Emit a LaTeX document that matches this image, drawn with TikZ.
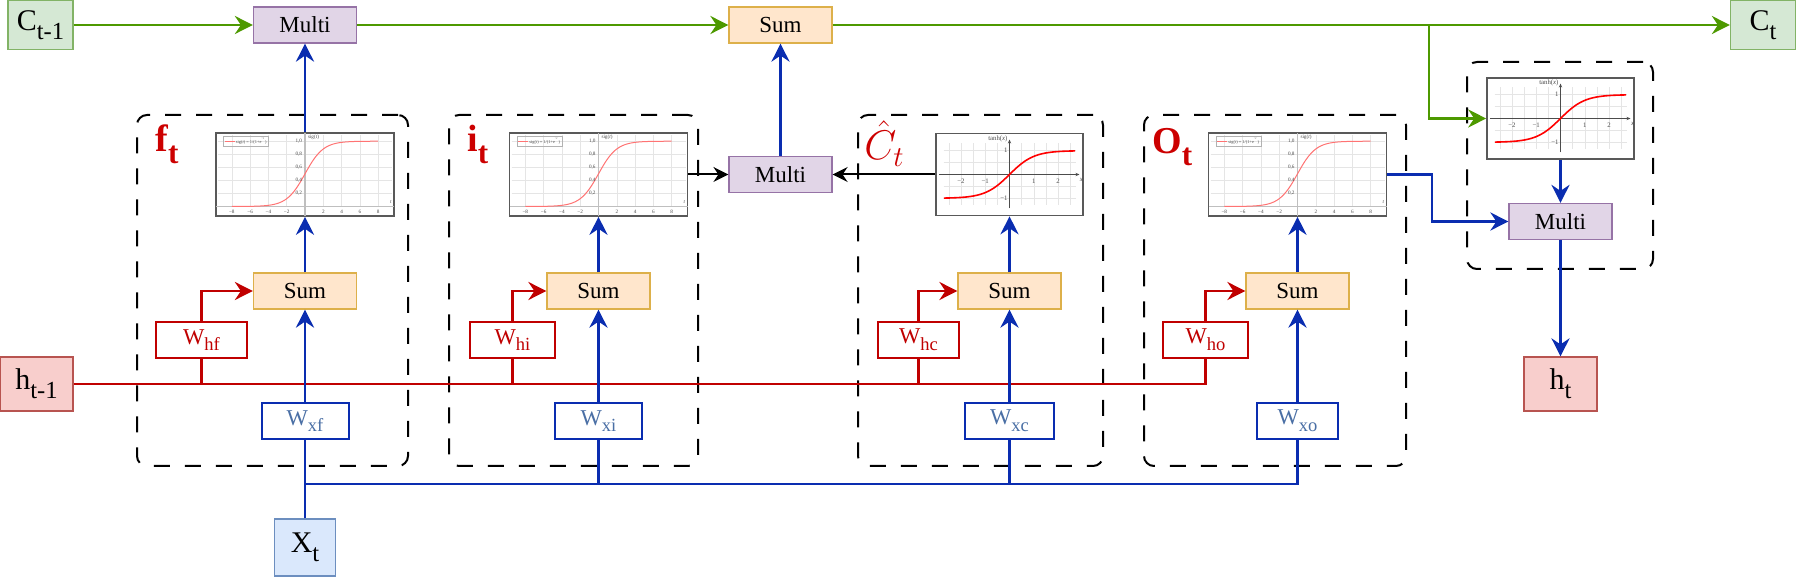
\documentclass[tikz,border=0pt]{standalone}
\usepackage{fontspec}
\setmainfont{Liberation Serif}
\usetikzlibrary{arrows.meta}

\definecolor{greenfill}{HTML}{D5E8D4}
\definecolor{greenedge}{HTML}{82B366}
\definecolor{cgreen}{HTML}{4D9900}
\definecolor{purplefill}{HTML}{E1D5E7}
\definecolor{purpleedge}{HTML}{9673A6}
\definecolor{orangefill}{HTML}{FFE6CC}
\definecolor{orangeedge}{HTML}{DDB04A}
\definecolor{redfill}{HTML}{F8CECC}
\definecolor{rededge}{HTML}{B85450}
\definecolor{hred}{HTML}{C00000}
\definecolor{labelred}{HTML}{CC0000}
\definecolor{bluefill}{HTML}{DAE8FC}
\definecolor{blueedge}{HTML}{6C8EBF}
\definecolor{xblue}{HTML}{0A2DB0}
\definecolor{xtext}{HTML}{4A6FA5}

\newcommand{\tsub}[1]{\raisebox{-0.3em}{\scalebox{0.82}{#1}}}

\tikzset{
  cellbox/.style={rectangle, draw=greenedge, fill=greenfill, line width=0.6pt,
    minimum width=32.5pt, minimum height=24.5pt, inner sep=0pt,
    font=\fontsize{15}{18}\selectfont},
  hidbox/.style={rectangle, draw=rededge, fill=redfill, line width=0.6pt,
    minimum width=36.5pt, minimum height=27pt, inner sep=0pt,
    font=\fontsize{15}{18}\selectfont},
  inbox/.style={rectangle, draw=blueedge, fill=bluefill, line width=0.6pt,
    minimum width=30.5pt, minimum height=28.5pt, inner sep=0pt,
    font=\fontsize{15}{18}\selectfont},
  multbox/.style={rectangle, draw=purpleedge, fill=purplefill, line width=0.6pt,
    minimum width=51.5pt, minimum height=18pt, inner sep=0pt,
    font=\fontsize{11.5}{13}\selectfont},
  sumbox/.style={rectangle, draw=orangeedge, fill=orangefill, line width=0.6pt,
    minimum width=51.5pt, minimum height=18pt, inner sep=0pt,
    font=\fontsize{11.5}{13}\selectfont},
  hweight/.style={rectangle, draw=hred, fill=white, text=hred, line width=1pt,
    minimum height=18pt, inner sep=0pt, font=\fontsize{11.3}{13}\selectfont},
  xweight/.style={rectangle, draw=xblue, fill=white, text=xtext, line width=1pt,
    minimum height=18pt, inner sep=0pt, font=\fontsize{11.3}{13}\selectfont},
  gatebox/.style={rectangle, draw, line width=1pt, rounded corners=5pt,
    dash pattern=on 8pt off 7.5pt},
  gatelabel/.style={anchor=base west, inner sep=0pt, text=labelred,
    font=\fontsize{19}{22}\selectfont},
  plotbox/.style={rectangle, draw=black!65, fill=white, line width=0.8pt, inner sep=0pt},
  plotgrid/.style={draw=black!10, line width=0.25pt},
  sigaxis/.style={draw=black!25, line width=0.6pt},
  tanhaxis/.style={draw=black!70, line width=0.5pt, -{Stealth[length=2pt,width=1.6pt]}},
  sigred/.style={draw=red!55, line width=0.5pt},
  tanhred/.style={draw=red, line width=0.8pt},
  plottick/.style={inner sep=0.3pt, text=black!70, font=\fontsize{2.6}{3}\selectfont},
  carrow/.style={draw=cgreen, line width=1.3pt, -{Stealth[length=9pt,width=9pt,inset=3pt]}},
  harrow/.style={draw=hred, line width=1.3pt, -{Stealth[length=9pt,width=9pt,inset=3pt]}},
  hwire/.style={draw=hred, line width=1.3pt},
  xarrow/.style={draw=xblue, line width=1.4pt, -{Stealth[length=9pt,width=9pt,inset=3pt]}},
  xwire/.style={draw=xblue, line width=1.4pt},
  karrow/.style={draw=black, line width=1pt, -{Stealth[length=7.5pt,width=7.5pt,inset=2.5pt]}}
}

% sigmoid picture inside a plot node
\newcommand{\sigcurve}[1]{%
  \begin{scope}[shift={(#1.center)}]
    \foreach \g in {-8,-6,...,8}
      \draw[plotgrid] ({9.15*\g},-39) -- ({9.15*\g},32);
    \foreach \g in {1,...,5}
      \draw[plotgrid] (-87,{32-13.06*\g}) -- (87,{32-13.06*\g});
    \draw[sigaxis] (-89,32) -- (89,32);
    \draw[sigaxis] (0,-41.5) -- (0,41.5);
    \draw[sigred] plot[domain=-8:8, samples=60, smooth] ({9.15*\x},{32-65.3/(1+exp(-\x))});
    \foreach \g/\t in {-8/−8,-6/−6,-4/−4,-2/−2,2/2,4/4,6/6,8/8}
      \node[plottick] (#1-x\g) at ({9.15*\g},37) {\t};
    \foreach \g/\t in {1/{0,2},2/{0,4},3/{0,6},4/{0,8},5/{1,0}}
      \node[plottick, anchor=east] (#1-y\g) at (-2,{32-13.06*\g}) {\t};
    \node[plottick, anchor=west] (#1-lab) at (2,-37) {sig(\textit{t})};
    \node[plottick] (#1-xlab) at (86,28) {\textit{t}};
    \node[plottick, draw=black!30, line width=0.2pt, anchor=west, inner sep=0.8pt,
      font=\fontsize{2.2}{2.6}\selectfont] (#1-leg) at (-82,-33.5)
      {\textcolor{red!55}{\rule[0.6pt]{5pt}{0.4pt}} sig(\textit{t}) = 1/(1+e\textsuperscript{−\textit{t}})};
  \end{scope}}

% tanh picture inside a plot node
\newcommand{\tanhcurve}[1]{%
  \begin{scope}[shift={(#1.center)}]
    \foreach \g in {-5,...,5}
      \draw[plotgrid] ({12.15*\g},-31) -- ({12.15*\g},31);
    \foreach \g in {-2,...,2}
      \draw[plotgrid] (-66,{11.9*\g}) -- (66,{11.9*\g});
    \draw[tanhaxis] (-70.5,0) -- (70,0);
    \draw[tanhaxis] (0,34) -- (0,-35);
    \draw[tanhred] plot[domain=-2.7:2.7, samples=60, smooth] ({24.3*\x},{-23.8*tanh(\x)});
    \foreach \g/\t in {-2/−2,-1/−1,1/1,2/2}
      \node[plottick, font=\fontsize{3.4}{4}\selectfont] (#1-x\g) at ({24.3*\g},7) {\t};
    \node[plottick, anchor=east, font=\fontsize{3.4}{4}\selectfont] (#1-y1) at (-1,-23.8) {1};
    \node[plottick, anchor=east, font=\fontsize{3.4}{4}\selectfont] (#1-y2) at (-1,23.8) {−1};
    \node[plottick, anchor=south east, font=\fontsize{3.4}{4}\selectfont] (#1-lab) at (-1,-32) {tanh(\textit{x})};
    \node[plottick, font=\fontsize{3.4}{4}\selectfont] (#1-xlab) at (72,5) {\textit{x}};
  \end{scope}}

\begin{document}
\begin{tikzpicture}[x=0.5pt, y=-0.5pt]
  \useasboundingbox (0,0) rectangle (1796,577);

  % gates
  \node[gatebox, minimum width=135.5pt, minimum height=175.5pt] (fgate) at (272.5,290.5) {};
  \node[gatebox, minimum width=124.5pt, minimum height=175.5pt] (igate) at (573.5,290.5) {};
  \node[gatebox, minimum width=122.5pt, minimum height=175.5pt] (cgate) at (980.5,290.5) {};
  \node[gatebox, minimum width=131pt, minimum height=175.5pt] (ogate) at (1275,290.5) {};
  \node[gatebox, minimum width=93pt, minimum height=103.5pt] (hgate) at (1560,165.5) {};

  \node[gatelabel] (flab) at (155,152) {\textbf{f\tsub{t}}};
  \node[gatelabel] (ilab) at (467,152) {\textbf{i\tsub{t}}};
  \node[gatelabel, font=\fontsize{20.74}{24}\selectfont] (clab) at (864,160) {$\hat{C}_t$};
  \node[gatelabel] (olab) at (1152,154) {\textbf{O\tsub{t}}};

  % activations
  \node[plotbox, minimum width=89pt, minimum height=41.5pt] (sigf) at (305,174.5) {};
  \node[plotbox, minimum width=89pt, minimum height=41.5pt] (sigi) at (598.5,174.5) {};
  \node[plotbox, minimum width=73.5pt, minimum height=41pt] (tanhc) at (1009.5,174.5) {};
  \node[plotbox, minimum width=89pt, minimum height=41.5pt] (sigo) at (1297.5,174.5) {};
  \node[plotbox, minimum width=73.5pt, minimum height=40.5pt] (tanho) at (1560.5,118.5) {};
  \sigcurve{sigf}
  \sigcurve{sigi}
  \tanhcurve{tanhc}
  \sigcurve{sigo}
  \tanhcurve{tanho}

  % cell state row
  \node[cellbox] (Cprev) at (40.5,25) {C\tsub{t-1}};
  \node[multbox] (multf) at (305,25) {Multi};
  \node[sumbox] (sumC) at (780.5,25) {Sum};
  \node[cellbox] (Cnext) at (1763,25) {C\tsub{t}};

  \node[multbox] (multi) at (780.5,174.5) {Multi};
  \node[multbox] (multo) at (1560.5,221.5) {Multi};

  % sums and weights
  \node[sumbox] (sumf) at (305,291) {Sum};
  \node[sumbox] (sumi) at (598.5,291) {Sum};
  \node[sumbox] (sumc) at (1009.5,291) {Sum};
  \node[sumbox] (sumo) at (1297.5,291) {Sum};

  \node[hweight, minimum width=45.5pt] (whf) at (201.5,340) {W\tsub{hf}};
  \node[hweight, minimum width=42.5pt] (whi) at (512.5,340) {W\tsub{hi}};
  \node[hweight, minimum width=40.5pt] (whc) at (918.5,340) {W\tsub{hc}};
  \node[hweight, minimum width=42.5pt] (who) at (1205.5,340) {W\tsub{ho}};

  \node[xweight, minimum width=43.5pt] (wxf) at (305,421) {W\tsub{xf}};
  \node[xweight, minimum width=43.5pt] (wxi) at (598.5,421) {W\tsub{xi}};
  \node[xweight, minimum width=44.5pt] (wxc) at (1009.5,421) {W\tsub{xc}};
  \node[xweight, minimum width=40.5pt] (wxo) at (1297.5,421) {W\tsub{xo}};

  % inputs and output
  \node[hidbox] (hprev) at (36.5,384) {h\tsub{t-1}};
  \node[inbox] (xin) at (305,547.5) {X\tsub{t}};
  \node[hidbox] (hnext) at (1560.5,384) {h\tsub{t}};

  \coordinate (cbranch) at (1429,25);
  \coordinate (xbus) at (305,484);
  \coordinate (obend) at (1432,174.5);

  % cell state line
  \draw[carrow] (Cprev) -- (multf);
  \draw[carrow] (multf) -- (sumC);
  \draw[carrow] (sumC) -- (Cnext);
  \draw[carrow] (cbranch) |- (tanho.west);

  % hidden state
  \draw[hwire] (hprev.east) -| (who.south);
  \draw[hwire] (whf.south) -- (whf.south |- hprev);
  \draw[hwire] (whi.south) -- (whi.south |- hprev);
  \draw[hwire] (whc.south) -- (whc.south |- hprev);
  \draw[harrow] (whf.north) |- (sumf.west);
  \draw[harrow] (whi.north) |- (sumi.west);
  \draw[harrow] (whc.north) |- (sumc.west);
  \draw[harrow] (who.north) |- (sumo.west);

  % input
  \draw[xwire] (xin) -- (wxf);
  \draw[xwire] (xbus) -| (wxo.south);
  \draw[xwire] (wxi.south) -- (wxi.south |- xbus);
  \draw[xwire] (wxc.south) -- (wxc.south |- xbus);
  \draw[xarrow] (wxf) -- (sumf);
  \draw[xarrow] (wxi) -- (sumi);
  \draw[xarrow] (wxc) -- (sumc);
  \draw[xarrow] (wxo) -- (sumo);
  \draw[xarrow] (sumf) -- (sigf);
  \draw[xarrow] (sumi) -- (sigi);
  \draw[xarrow] (sumc) -- (tanhc);
  \draw[xarrow] (sumo) -- (sigo);

  % gate outputs
  \draw[xarrow] (sigf) -- (multf);
  \draw[karrow] (sigi) -- (multi);
  \draw[karrow] (tanhc) -- (multi);
  \draw[xarrow] (multi) -- (sumC);
  \draw[xarrow] (sigo.east) -- (obend) |- (multo.west);
  \draw[xarrow] (tanho) -- (multo);
  \draw[xarrow] (multo) -- (hnext);
\end{tikzpicture}
\end{document}
